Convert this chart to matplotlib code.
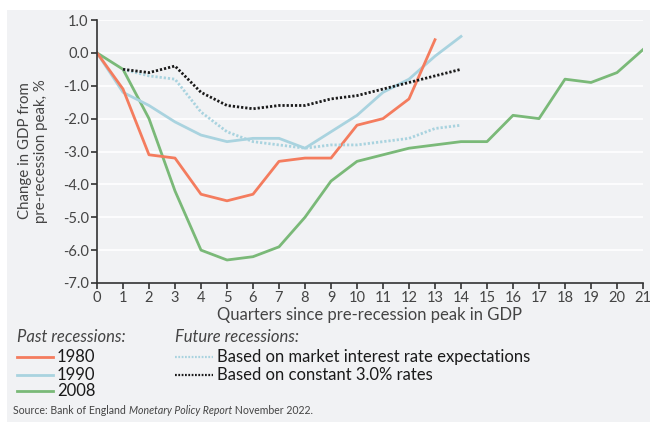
import matplotlib.pyplot as plt
from matplotlib.patches import Rectangle
from matplotlib.lines import Line2D

plt.rcParams['font.family'] = ['Lato', 'DejaVu Sans']

# Data
q_1980 = list(range(0, 14))
gdp_1980 = [0.0, -1.1, -3.1, -3.2, -4.3, -4.5, -4.3, -3.3, -3.2, -3.2, -2.2, -2.0, -1.4, 0.4]

q_1990 = list(range(0, 15))
gdp_1990 = [0.0, -1.2, -1.6, -2.1, -2.5, -2.7, -2.6, -2.6, -2.9, -2.4, -1.9, -1.2, -0.8, -0.1, 0.5]

q_2008 = list(range(0, 22))
gdp_2008 = [0.0, -0.5, -2.0, -4.2, -6.0, -6.3, -6.2, -5.9, -5.0, -3.9, -3.3, -3.1,
            -2.9, -2.8, -2.7, -2.7, -1.9, -2.0, -0.8, -0.9, -0.6, 0.1]

q_future = list(range(1, 15))
gdp_market = [-0.5, -0.7, -0.8, -1.8, -2.4, -2.7, -2.8, -2.9, -2.8, -2.8, -2.7, -2.6, -2.3, -2.2]
gdp_const = [-0.5, -0.6, -0.4, -1.2, -1.6, -1.7, -1.6, -1.6, -1.4, -1.3, -1.1, -0.9, -0.7, -0.5]

y_ticks = [1.0, 0.0, -1.0, -2.0, -3.0, -4.0, -5.0, -6.0, -7.0]
y_labels = ['1.0', '0.0', '-1.0', '-2.0', '-3.0', '-4.0', '-5.0', '-6.0', '-7.0']
x_ticks = list(range(0, 22))

c_1980 = '#f47c5e'
c_1990 = '#a9d3df'
c_2008 = '#7ab978'
c_const = '#1a1a1a'
bg = '#f1f2f4'
txt = '#444444'
dots = (0, (0.8, 0.7))

W, H = 650, 422
fig = plt.figure(figsize=(6.5, 4.22), dpi=100, facecolor='white')
fig.patches.append(Rectangle((7 / W, 0), 1, 1 - 10 / H, transform=fig.transFigure,
                             facecolor=bg, edgecolor='none', zorder=-10))

ax = fig.add_axes([97 / W, 1 - 283 / H, (643 - 97) / W, (283 - 20) / H])
ax.set_facecolor(bg)

for y in y_ticks[:-1]:
    ax.axhline(y, color='white', lw=1.2, zorder=1)

ax.plot(q_future, gdp_market, color=c_1990, lw=2, ls=dots, zorder=3)
ax.plot(q_future, gdp_const, color=c_const, lw=2, ls=dots, zorder=3)
ax.plot(q_2008, gdp_2008, color=c_2008, lw=2, zorder=2)
ax.plot(q_1990, gdp_1990, color=c_1990, lw=2, zorder=2)
ax.plot(q_1980, gdp_1980, color=c_1980, lw=2, zorder=2)

ax.set_xlim(0, 21)
ax.set_ylim(-7, 1)
ax.set_xticks(x_ticks)
ax.set_xticklabels([str(x) for x in x_ticks])
ax.set_yticks(y_ticks)
ax.set_yticklabels(y_labels)
ax.tick_params(axis='both', direction='out', length=4, width=1.2, color='#333333',
               labelsize=10.5, labelcolor=txt, pad=2)
for s in ['top', 'right']:
    ax.spines[s].set_visible(False)
for s in ['left', 'bottom']:
    ax.spines[s].set_color('#333333')
    ax.spines[s].set_linewidth(1.2)

ax.set_xlabel('Quarters since pre-recession peak in GDP', fontsize=12, color=txt, labelpad=1)

# Legend drawn by hand in figure pixels
def fx(px):
    return px / W

def fy(py):
    return 1 - py / H

fig.text(fx(33), fy(151), 'Change in GDP from\npre-recession peak, %', fontsize=10.8,
         color=txt, rotation=90, ha='center', va='center', linespacing=1.25)

fig.text(fx(17), fy(337), 'Past recessions:', fontsize=12, style='italic',
         color=txt, va='center')
fig.text(fx(175), fy(337), 'Future recessions:', fontsize=12, style='italic',
         color=txt, va='center')

past = [('1980', c_1980, 357), ('1990', c_1990, 375), ('2008', c_2008, 391)]
for lab, col, py in past:
    fig.add_artist(Line2D([fx(17), fx(53)], [fy(py), fy(py)], color=col, lw=2,
                          transform=fig.transFigure))
    fig.text(fx(57), fy(py), lab, fontsize=12, color='#1a1a1a', va='center')

future = [('Based on market interest rate expectations', c_1990, 357),
          ('Based on constant 3.0% rates', c_const, 375)]
for lab, col, py in future:
    fig.add_artist(Line2D([fx(175), fx(213)], [fy(py), fy(py)], color=col, lw=1.6,
                          ls=dots, transform=fig.transFigure))
    fig.text(fx(217), fy(py), lab, fontsize=12, color='#1a1a1a', va='center')

# Source line with italic title in the middle
src_size = 7.6
src1 = fig.text(fx(13), fy(411), 'Source: Bank of England ', fontsize=src_size,
                color=txt, va='center')
fig.canvas.draw()
x1 = src1.get_window_extent().x1 / W
src2 = fig.text(x1, fy(411), 'Monetary Policy Report', fontsize=src_size, color=txt,
                va='center', style='italic')
fig.canvas.draw()
x2 = src2.get_window_extent().x1 / W
fig.text(x2, fy(411), ' November 2022.', fontsize=src_size, color=txt, va='center')

fig.savefig('out.png', dpi=100, facecolor='white')
